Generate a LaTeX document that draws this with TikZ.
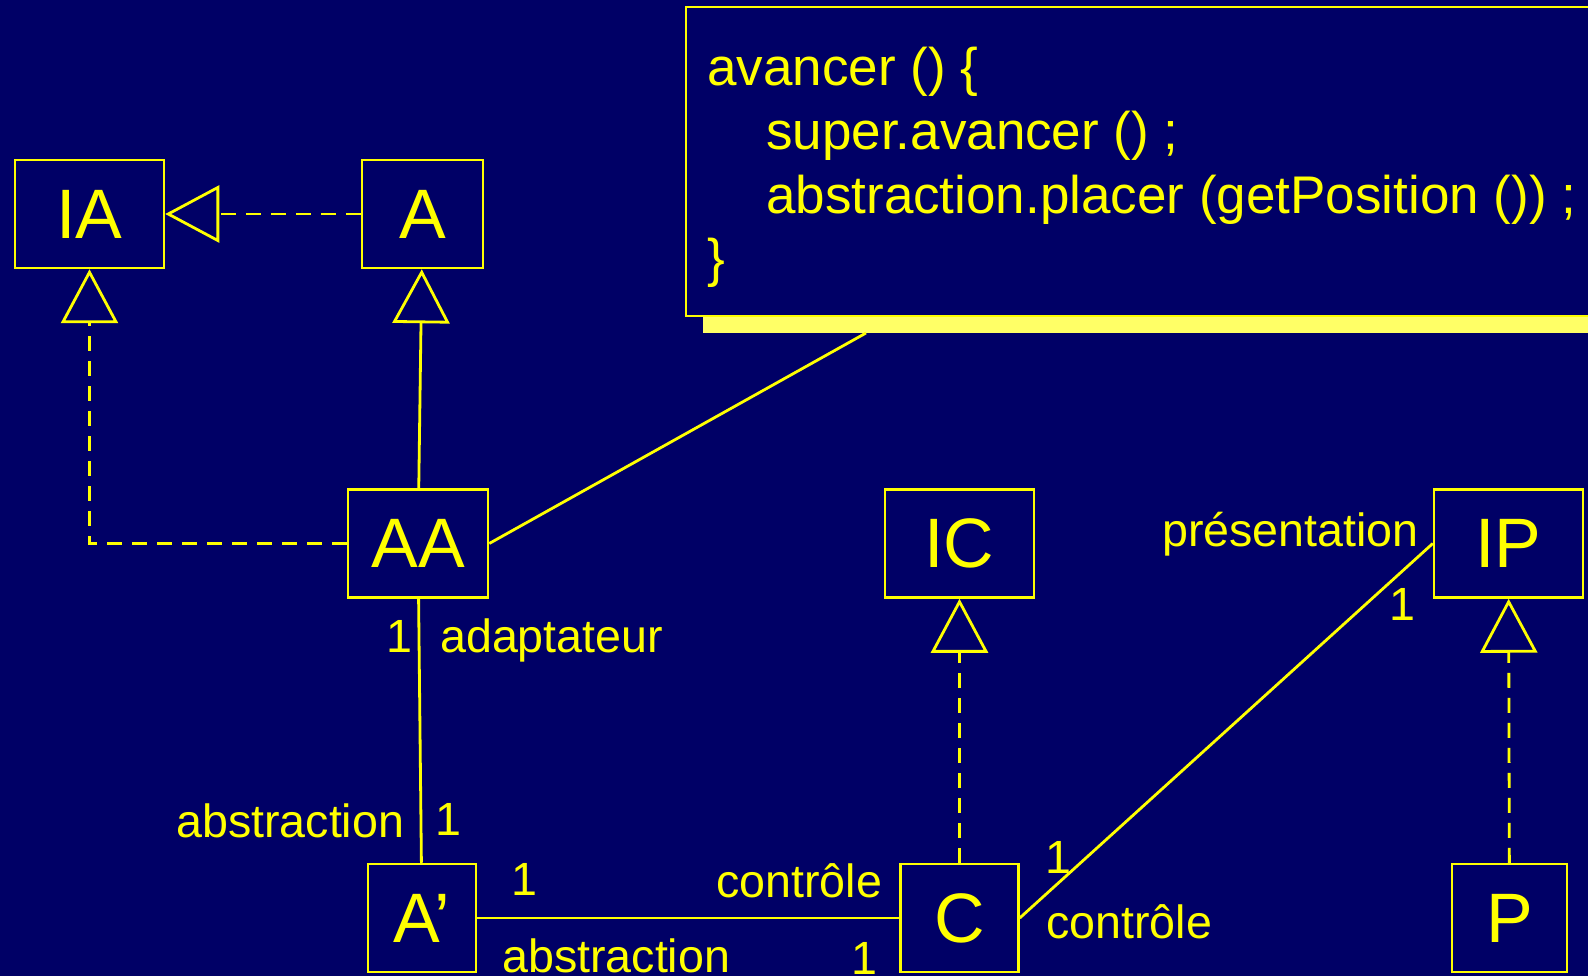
\documentclass[tikz,border=0pt]{standalone}
\usepackage{fontspec}
\setmainfont{Liberation Sans}
\usetikzlibrary{arrows.meta,shadows}
\definecolor{slideblue}{RGB}{0,0,102}
\definecolor{umlyellow}{RGB}{255,255,0}
\definecolor{shadowyellow}{RGB}{255,255,102}
\begin{document}
\begin{tikzpicture}[x=1pt,y=1pt,node distance=333pt]
\tikzstyle{classbox} = [rectangle, draw=umlyellow, line width=2.5pt, text=umlyellow, minimum height=108pt, inner sep=0pt, font=\fontsize{70}{84}\selectfont]
\tikzstyle{role} = [text=umlyellow, inner sep=0pt, font=\fontsize{46.6}{56}\selectfont]
\tikzstyle{assoc} = [draw=umlyellow, line width=2.8pt]
\tikzstyle{inherit} = [assoc, -{Triangle[open,length=54pt,width=57pt]}]
\tikzstyle{realize} = [inherit, dash pattern=on 15pt off 10pt]
\useasboundingbox (0,0) rectangle (1588,-976);
\fill[slideblue] (0,0) rectangle (1588,-976);
% note attached to AA
\node (note)[draw=umlyellow, line width=1.8pt, fill=slideblue, minimum width=934pt, minimum height=309pt, drop shadow={shadow xshift=17pt, shadow yshift=-17pt, fill=shadowyellow, opacity=1}] at (1153,-161.5) {};
\node (code)[anchor=base west, align=left, text=umlyellow, inner sep=0pt, font=\fontsize{53}{63.7}\selectfont] at (707,-277) {avancer () \{\\\hspace*{59pt}super.avancer () ;\\\hspace*{59pt}abstraction.placer (getPosition ()) ;\\\}};
\coordinate (notefoot) at (866,-333);
% classes
\node (IA)[classbox, minimum width=149pt] at (89.5,-214) {IA};
\node (A) [classbox, minimum width=121pt, right of=IA] {A};
\node (AA)[classbox, minimum width=140pt, below of=A, node distance=329.5pt, xshift=-4.5pt] {AA};
\node (Ap)[classbox, minimum width=108pt, below of=AA, node distance=374.5pt, xshift=4pt] {A’};
\node (IC)[classbox, minimum width=149pt] at (959.5,-543.5) {IC};
\node (C) [classbox, minimum width=118pt, below of=IC, node distance=374.5pt] {C};
\node (IP)[classbox, minimum width=149pt, right of=IC, node distance=549pt] {IP};
\node (P) [classbox, minimum width=115pt, below of=IP, node distance=374.5pt, xshift=1pt] {P};
% roles and multiplicities
\node (rPres)[role, anchor=base east] at (1419,-546) {présentation};
\node (mIP)[role, anchor=base] at (1402,-620) {1};
\node (mAA)[role, anchor=base] at (399,-652) {1};
\node (rAdapt)[role, anchor=base west] at (440,-652) {adaptateur};
\node (rAbsUp)[role, anchor=base west] at (176,-837) {abstraction};
\node (mApUp)[role, anchor=base] at (448,-835) {1};
\node (mApRight)[role, anchor=base] at (524,-895) {1};
\node (rCtrlLeft)[role, anchor=base west] at (716,-897) {contrôle};
\node (rAbsLow)[role, anchor=base west] at (502,-972) {abstraction};
\node (mCLow)[role, anchor=base] at (864,-974) {1};
\node (mCRight)[role, anchor=base] at (1058,-873) {1};
\node (rCtrlRight)[role, anchor=base west] at (1046,-938) {contrôle};
% links
\draw [realize] (A) -- (IA);
\draw [inherit] (AA) -- (A);
\draw [realize] (AA.west) -| (IA.south);
\draw [assoc] (AA.east) -- (notefoot);
\draw [assoc] (AA) -- (Ap);
\draw [assoc] (Ap) -- (C);
\draw [realize] (C) -- (IC);
\draw [assoc] (C.east) -- (IP.west);
\draw [realize] (P) -- (IP);
\end{tikzpicture}
\end{document}
